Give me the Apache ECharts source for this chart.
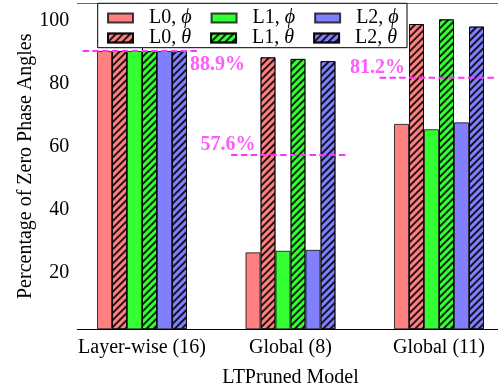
<!DOCTYPE html>
<html><head><meta charset="utf-8">
<script src="https://cdn.jsdelivr.net/npm/echarts@6/dist/echarts.min.js"></script>
<style>html,body{margin:0;padding:0;background:#fff;overflow:hidden}#c{width:498px;height:392px}</style>
</head><body><div id="c"></div>
<script>
// ---- data ----
const categories = ['Layer-wise (16)', 'Global (8)', 'Global (11)'];
const seriesNames = ['L0, ϕ', 'L0, θ', 'L1, ϕ', 'L1, θ', 'L2, ϕ', 'L2, θ'];
const l0Phi   = [88.6, 24.5, 65.4];
const l0Theta = [88.6, 86.6, 97.2];
const l1Phi   = [88.6, 25.0, 63.7];
const l1Theta = [88.6, 86.1, 98.7];
const l2Phi   = [88.6, 25.3, 65.9];
const l2Theta = [88.6, 85.4, 96.4];
const refLevels = [88.6, 55.5, 80.1];
const refTexts  = ['88.9%', '57.6%', '81.2%'];
const yTicks = [20, 40, 60, 80, 100];
const yMax = 103.8;

// ---- styling / layout ----
const FONT = 'Liberation Serif';
const colors = ['#ff8080', '#ff8080', '#33ff33', '#33ff33', '#8080ff', '#8080ff'];
const values = [l0Phi, l0Theta, l1Phi, l1Theta, l2Phi, l2Theta];
const hatch = {
  symbol: 'rect', symbolSize: 1, dashArrayX: [1, 0], dashArrayY: [1.2, 2.1],
  rotation: -Math.PI / 4, color: 'rgba(0,0,0,0.85)'
};
const magenta = '#ff33ff';
const refSpan = [-0.40, 0.38];
const refLabelLayout = [
  { end: 1, offset: [19, 14] },
  { end: 0, offset: [-3, -10] },
  { end: 0, offset: [-2, -10] }
];

const series = [];
seriesNames.forEach((name, i) => {
  series.push({
    name, type: 'bar', xAxisIndex: 0, yAxisIndex: 0,
    data: values[i], barWidth: 15, barGap: '0%',
    itemStyle: Object.assign({ color: colors[i], borderColor: 'rgba(0,0,0,0.75)', borderWidth: 1 },
      i % 2 === 1 ? { decal: hatch } : {}),
    emphasis: { disabled: true }
  });
});
refLevels.forEach((lvl, i) => {
  const pts = [[i + refSpan[0], lvl], [i + refSpan[1], lvl]];
  series.push({
    type: 'line', xAxisIndex: 1, yAxisIndex: 1, data: pts, symbol: 'none', z: 4,
    lineStyle: { color: magenta, width: 2, type: [6.5, 3.3] }, silent: true
  });
  const lay = refLabelLayout[i];
  series.push({
    type: 'scatter', xAxisIndex: 1, yAxisIndex: 1, data: [pts[lay.end]], symbolSize: 1,
    itemStyle: { color: 'transparent' }, silent: true, z: 6,
    label: { show: true, position: 'inside', offset: lay.offset, formatter: refTexts[i],
      fontFamily: FONT, fontSize: 20, fontWeight: 'bold', color: magenta }
  });
});

const legendCommon = {
  left: 102, itemWidth: 25, itemHeight: 9, itemGap: 19, selectedMode: false, z: 10,
  icon: 'rect',
  textStyle: { fontFamily: FONT, fontSize: 20, color: '#000', padding: [0, 0, 0, 11],
    rich: { a: { fontFamily: FONT, fontSize: 20, color: '#000' },
            b: { fontFamily: FONT, fontSize: 20, color: '#000', fontStyle: 'italic' } } },
  formatter: n => '{a|' + n.slice(0, -1) + '}{b|' + n.slice(-1) + '}'
};

const option = {
  animation: false,
  backgroundColor: '#fff',
  grid: [
    { left: 67.75, width: 445.5, top: 3.3, bottom: 62.7, outerBoundsMode: 'none', containLabel: false },
    { left: 77.3, width: 426.4, top: 3.3, bottom: 62.7, outerBoundsMode: 'none', containLabel: false }
  ],
  xAxis: [
    { type: 'category', gridIndex: 0, data: categories,
      axisLine: { show: false },
      axisTick: { alignWithLabel: true, length: 4, lineStyle: { color: '#000' } },
      axisLabel: { interval: 0, fontFamily: FONT, fontSize: 20, color: '#000', margin: 8 } },
    { type: 'value', gridIndex: 1, min: -0.4357, max: 2.4357,
      axisLine: { show: true, lineStyle: { color: '#000', width: 1 } },
      axisTick: { show: false }, axisLabel: { show: false }, splitLine: { show: false },
      name: 'LTPruned Model', nameLocation: 'middle', nameGap: 38, nameMoveOverlap: false,
      nameTextStyle: { fontFamily: FONT, fontSize: 20, color: '#000' } },
    { type: 'value', gridIndex: 1, position: 'top', min: -0.4357, max: 2.4357,
      axisLine: { show: true, lineStyle: { color: '#666', width: 1 } },
      axisTick: { show: false }, axisLabel: { show: false }, splitLine: { show: false } }
  ],
  yAxis: [
    { type: 'value', gridIndex: 0, min: 0, max: yMax, show: false },
    { type: 'value', gridIndex: 1, min: 0, max: yMax,
      axisLine: { show: true, lineStyle: { color: '#000', width: 1 } },
      axisTick: { show: true, length: 2, customValues: yTicks, lineStyle: { color: '#000' } },
      axisLabel: { customValues: yTicks, margin: 8,
        formatter: v => '{v|' + v + '}',
        rich: { v: { fontFamily: FONT, fontSize: 20, color: '#000', padding: [12, 0, 0, 0] } } },
      splitLine: { show: false },
      name: 'Percentage of Zero Phase Angles', nameLocation: 'middle', nameGap: 42,
      nameMoveOverlap: false,
      nameTextStyle: { fontFamily: FONT, fontSize: 20, color: '#000' } }
  ],
  legend: [
    Object.assign({ top: 3, data: [seriesNames[0], seriesNames[2], seriesNames[4]] }, legendCommon),
    Object.assign({ top: 23, data: [seriesNames[1], seriesNames[3], seriesNames[5]] }, legendCommon)
  ],
  graphic: [{
    type: 'rect', z: 8, shape: { x: 97.7, y: 3.3, width: 309.3, height: 44.4 },
    style: { fill: '#fff', stroke: '#000', lineWidth: 1 }
  }],
  series
};
const chart = echarts.init(document.getElementById('c'), null, { renderer: 'canvas' });
chart.setOption(option);
</script></body></html>
